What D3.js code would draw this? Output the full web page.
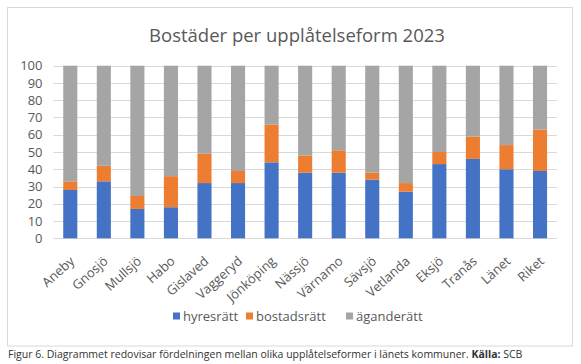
<!DOCTYPE html>
<html lang="sv">
<head>
<meta charset="utf-8">
<script src="https://cdn.jsdelivr.net/npm/d3@7"></script>
<style>
  body { margin: 0; background: #fff; }
  text { font-family: "Open Sans", "Liberation Sans", sans-serif; }
</style>
</head>
<body>
<script>
// data (percent)
var kommuner = ["Aneby","Gnosjö","Mullsjö","Habo","Gislaved","Vaggeryd","Jönköping","Nässjö","Värnamo","Sävsjö","Vetlanda","Eksjö","Tranås","Länet","Riket"];
var hyresratt   = [28, 33, 17, 18, 32, 32, 44, 38, 38, 34, 27, 43, 46, 40, 39];
var bostadsratt = [5, 9, 7.5, 18, 17, 7, 22, 10, 13, 4, 5, 7, 13, 14, 24];
var aganderatt  = kommuner.map(function(d, i){ return 100 - hyresratt[i] - bostadsratt[i]; });
var yTicks = [0,10,20,30,40,50,60,70,80,90,100];
var seriesNames = ["hyresrätt","bostadsrätt","äganderätt"];
var colors = ["#4472c4","#ed7d31","#a5a5a5"];

var W = 581, H = 364;
var plot = {left: 53.5, right: 556.8, top: 65.7, bottom: 238.3};

var svg = d3.select("body").append("svg")
  .attr("width", W).attr("height", H);

// chart frame
svg.append("rect")
  .attr("x", 7.5).attr("y", 7.5)
  .attr("width", 565).attr("height", 338.5)
  .attr("fill", "#fff").attr("stroke", "#d9d9d9").attr("stroke-width", 1);

svg.append("text")
  .attr("x", 297).attr("y", 42)
  .attr("text-anchor", "middle")
  .attr("fill", "#595959")
  .style("font-size", "18.5px")
  .text("Bostäder per upplåtelseform 2023");

var x = d3.scaleBand().domain(kommuner)
  .range([plot.left, plot.right]).paddingInner(0.58).paddingOuter(0.29);
var y = d3.scaleLinear().domain([0, 100]).range([plot.bottom, plot.top]);

// gridlines
svg.append("g").selectAll("line").data(yTicks).enter().append("line")
  .attr("x1", plot.left).attr("x2", plot.right)
  .attr("y1", function(d){ return Math.round(y(d)) + 0.5; })
  .attr("y2", function(d){ return Math.round(y(d)) + 0.5; })
  .attr("stroke", "#d9d9d9").attr("stroke-width", 1);

var yAxis = svg.append("g")
  .attr("transform", "translate(" + (plot.left - 11) + ",0)")
  .call(d3.axisLeft(y).tickValues(yTicks).tickSize(0).tickPadding(0));
yAxis.select(".domain").remove();
yAxis.selectAll("text").attr("fill", "#595959").style("font-size", "13px");

// stacked bars
var rows = kommuner.map(function(k, i){
  return {kommun: k, hyresratt: hyresratt[i], bostadsratt: bostadsratt[i], aganderatt: aganderatt[i]};
});
var stack = d3.stack().keys(["hyresratt","bostadsratt","aganderatt"])(rows);

svg.append("g").selectAll("g").data(stack).enter().append("g")
  .attr("fill", function(d, i){ return colors[i]; })
  .selectAll("rect").data(function(d){ return d; }).enter().append("rect")
  .attr("x", function(d){ return x(d.data.kommun); })
  .attr("width", x.bandwidth())
  .attr("y", function(d){ return y(d[1]); })
  .attr("height", function(d){ return y(d[0]) - y(d[1]); });

// category labels
var xAxis = svg.append("g")
  .attr("transform", "translate(0," + plot.bottom + ")")
  .call(d3.axisBottom(x).tickSize(0).tickPadding(0));
xAxis.select(".domain").remove();
xAxis.selectAll("text")
  .attr("fill", "#595959")
  .style("font-size", "13px")
  .attr("text-anchor", "end")
  .attr("dy", null)
  .attr("transform", "translate(5,24) rotate(-42)");

// legend
var legendX = [173, 246, 346];
var lg = svg.append("g").selectAll("g").data(seriesNames).enter().append("g")
  .attr("transform", function(d, i){ return "translate(" + legendX[i] + ",316)"; });
lg.append("rect").attr("x", 0).attr("y", -3.5).attr("width", 7).attr("height", 7)
  .attr("fill", function(d, i){ return colors[i]; });
lg.append("text").attr("x", 10).attr("y", 4.5)
  .attr("fill", "#595959").style("font-size", "13px")
  .text(function(d){ return d; });

// caption
var cap = svg.append("text").attr("x", 8).attr("y", 358)
  .attr("fill", "#333").style("font-size", "10.5px");
cap.append("tspan").text("Figur 6. Diagrammet redovisar fördelningen mellan olika upplåtelseformer i länets kommuner. ");
cap.append("tspan").attr("font-weight", "bold").text("Källa:");
cap.append("tspan").text(" SCB");
</script>
</body>
</html>
